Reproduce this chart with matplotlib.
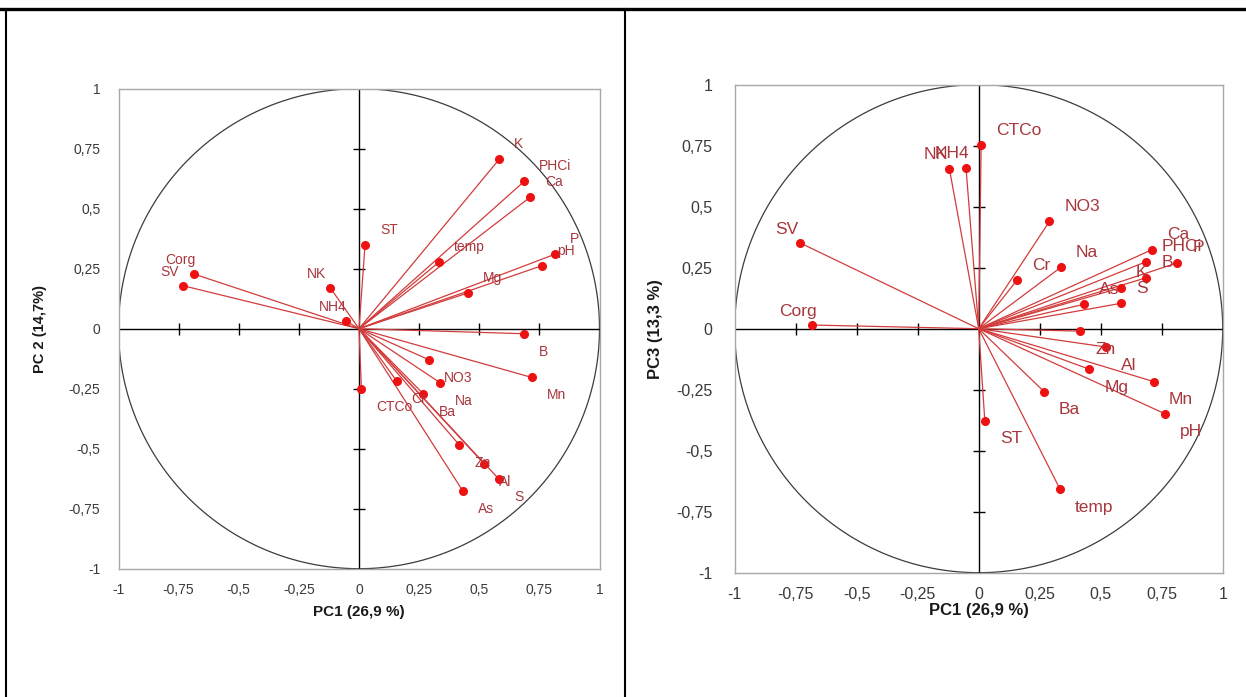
import numpy as np
import matplotlib
matplotlib.use('Agg')
import matplotlib.pyplot as plt
from matplotlib.lines import Line2D
from matplotlib.ticker import FuncFormatter

# loadings of the soil variables on the first three principal components
variables = ['Corg', 'SV', 'NK', 'NH4', 'ST', 'K', 'PHCi', 'Ca', 'temp', 'P', 'pH', 'Mg', 'B',
             'NO3', 'Na', 'Mn', 'Cr', 'Ba', 'CTCo', 'Zn', 'Al', 'S', 'As']
pc1 = [-0.684, -0.731, -0.120, -0.052, 0.025, 0.583, 0.687, 0.710, 0.333, 0.814, 0.762, 0.453, 0.687,
       0.290, 0.337, 0.718, 0.156, 0.268, 0.010, 0.416, 0.521, 0.583, 0.431]
pc2 = [0.227, 0.179, 0.171, 0.031, 0.347, 0.706, 0.614, 0.547, 0.278, 0.310, 0.263, 0.149, -0.021,
       -0.129, -0.225, -0.203, -0.217, -0.272, -0.250, -0.483, -0.564, -0.628, -0.675]
pc3 = [0.015, 0.351, 0.655, 0.659, -0.377, 0.168, 0.275, 0.324, -0.657, 0.270, -0.348, -0.166, 0.209,
       0.440, 0.252, -0.217, 0.198, -0.258, 0.752, -0.010, -0.075, 0.104, 0.100]

ticks = [-1, -0.75, -0.5, -0.25, 0, 0.25, 0.5, 0.75, 1]

plt.rcParams['font.family'] = ['Liberation Sans', 'DejaVu Sans']

LINE_RED = '#d23c3c'
DOT_RED = '#ee1111'
TEXT_RED = '#a8363c'


def comma(v, pos):
    return ('%g' % v).replace('.', ',')


def loading_circle(ax, xs, ys, fs_label, fs_tick, xpad, ypad):
    ax.set_xlim(-1, 1)
    ax.set_ylim(-1, 1)
    for sp in ax.spines.values():
        sp.set_color('#a8a8a8')
        sp.set_linewidth(1)
    ax.set_xticks(ticks)
    ax.set_yticks(ticks)
    ax.xaxis.set_major_formatter(FuncFormatter(comma))
    ax.yaxis.set_major_formatter(FuncFormatter(comma))
    ax.tick_params(length=0, labelsize=fs_tick, labelcolor='#3a3a3a')
    ax.tick_params(axis='x', pad=xpad)
    ax.tick_params(axis='y', pad=ypad)

    theta = np.linspace(0, 2 * np.pi, 500)
    ax.plot(np.cos(theta), np.sin(theta), color='#3c3c3c', lw=0.9, zorder=1)
    ax.axhline(0, color='black', lw=1, zorder=1)
    ax.axvline(0, color='black', lw=1, zorder=1)
    inner = [t for t in ticks if t not in (-1, 0, 1)]
    ax.plot(inner, [0] * len(inner), ls='none', marker='|', ms=8, mew=1, color='black', zorder=1)
    ax.plot([0] * len(inner), inner, ls='none', marker='_', ms=8, mew=1, color='black', zorder=1)

    for x, y in zip(xs, ys):
        ax.plot([0, x], [0, y], color=LINE_RED, lw=0.9, zorder=2)
    ax.plot(xs, ys, ls='none', marker='o', ms=5.5, color=DOT_RED, mec=DOT_RED, zorder=3)

    for name, x, y in zip(variables, xs, ys):
        if x < 0:
            off, ha = (-14, 14), 'center'
        elif y >= 0:
            off, ha = (15, 15), 'left'
        else:
            off, ha = (15, -18), 'left'
        ax.annotate(name, (x, y), xytext=off, textcoords='offset pixels',
                    ha=ha, va='center', fontsize=fs_label, color=TEXT_RED, zorder=4)


fig = plt.figure(figsize=(12.46, 6.97), dpi=100)

ax1 = fig.add_axes([118.5 / 1246, 1 - 568.7 / 697, 481 / 1246, 480 / 697])
loading_circle(ax1, pc1, pc2, 10, 10, 10, 13)
ax1.set_xlabel('PC1 (26,9 %)', fontsize=11, fontweight='bold', color='#1a1a1a')
ax1.set_ylabel('PC 2 (14,7%)', fontsize=10.5, fontweight='bold', color='#1a1a1a')
ax1.xaxis.set_label_coords(0.5, -0.076)
ax1.yaxis.set_label_coords(-0.149, 0.5)

ax2 = fig.add_axes([734.7 / 1246, 1 - 572.7 / 697, 488 / 1246, 488 / 697])
loading_circle(ax2, pc1, pc3, 12.5, 11.5, 10.5, 16)
ax2.set_xlabel('PC1 (26,9 %)', fontsize=12, fontweight='bold', color='#1a1a1a')
ax2.set_ylabel('PC3 (13,3 %)', fontsize=12, fontweight='bold', color='#1a1a1a')
ax2.xaxis.set_label_coords(0.5, -0.062)
ax2.yaxis.set_label_coords(-0.147, 0.5)

# table borders around the two panels
fig.add_artist(Line2D([0, 1], [1 - 8.5 / 697] * 2, transform=fig.transFigure, color='black', lw=2.4))
fig.add_artist(Line2D([5.5 / 1246] * 2, [0, 1 - 8.5 / 697], transform=fig.transFigure, color='black', lw=1.5))
fig.add_artist(Line2D([624.5 / 1246] * 2, [0, 1 - 8.5 / 697], transform=fig.transFigure, color='black', lw=1.5))

fig.savefig('out.png', dpi=100, facecolor='white')
